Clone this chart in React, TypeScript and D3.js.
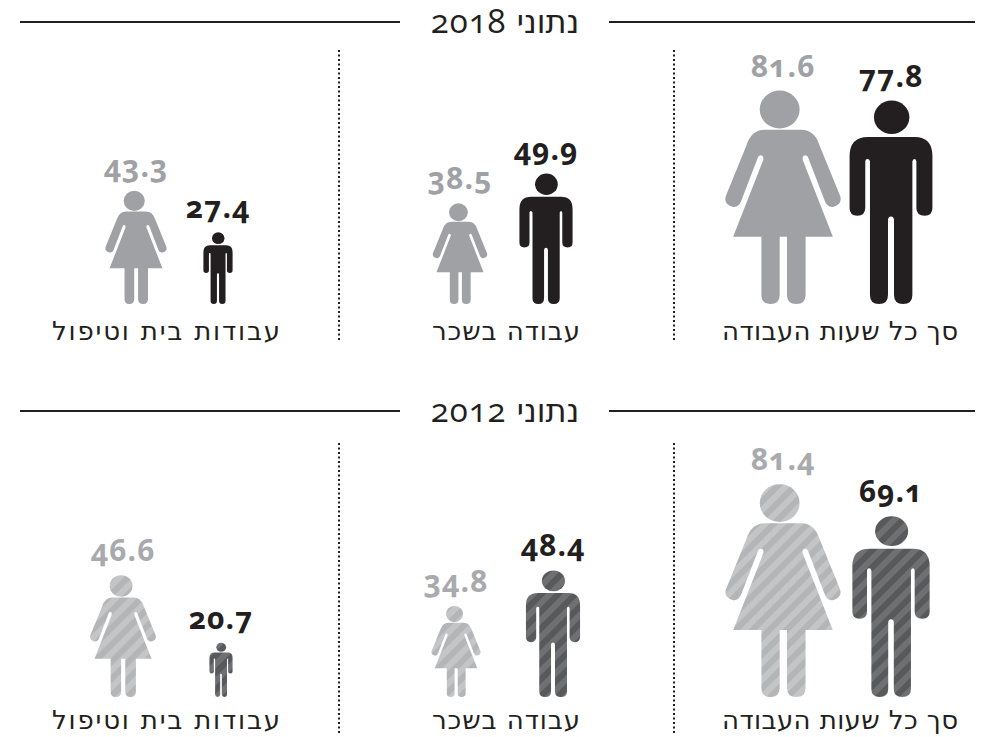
import React from "react";
import * as d3 from "d3";

const years = ["2018", "2012"];
const categories = ["סך כל שעות העבודה", "עבודה בשכר", "עבודות בית וטיפול"];
const women2018 = [81.6, 38.5, 43.3];
const men2018 = [77.8, 49.9, 27.4];
const women2012 = [81.4, 34.8, 46.6];
const men2012 = [69.1, 48.4, 20.7];

// Layout, separate from data
const womenX = [[783, 460, 136], [783, 456, 123]];
const menX = [[891, 546, 218], [891, 553, 221]];
const baselines = [304, 697];
const titleY = [22, 411];
const labelY = [340, 729];
const labelX = [840, 506, 166];
const labelWidth = [236, 148, 228];
const dividerX = [674, 339];
const dividerY: [number, number][] = [[50, 340], [443, 735]];
const manStretch = [1, 1.05];

const h = d3.scaleLinear().domain([0, 100]).range([0, 261.5]);

const womanPath =
  "M-55,-524 L55,-524 Q95,-524 110,-477 L172,-325 Q180,-300 150,-292 Q132,-290 125,-312 L75,-442 Q70,-450 62,-446 Q57,-440 60,-432 L150,-202 L68,-202 L68,-27 Q68,0 40,0 Q12,0 12,-27 L12,-202 L-10,-202 L-10,-27 Q-10,0 -38,0 Q-65,0 -65,-27 L-65,-202 L-150,-202 L-60,-432 Q-57,-440 -62,-446 Q-70,-450 -75,-442 L-125,-312 Q-132,-290 -150,-292 Q-180,-300 -172,-325 L-110,-477 Q-95,-524 -55,-524 Z";
const manPath =
  "M-69,-500 L71,-500 Q124,-500 124,-442 L124,-287 Q124,-264 101,-264 Q76,-264 76,-287 L76,-427 Q74,-434 71,-434 Q66,-434 64,-427 L64,-27 Q64,0 36,0 Q9,0 9,-27 L9,-252 Q8,-262 0,-262 Q-8,-262 -9,-252 L-9,-27 Q-9,0 -36,0 Q-63,0 -63,-27 L-63,-427 Q-64,-434 -71,-434 Q-76,-434 -77,-427 L-77,-287 Q-77,-264 -101,-264 Q-124,-264 -124,-287 L-124,-442 Q-124,-500 -69,-500 Z";

const hebrewFont = "'DejaVu Sans'";
const numFont = "'Open Sans', sans-serif";

function Figure({ id, kind, value, x, base, colors, stretch }: { id: string; kind: "w" | "m"; value: number; x: number; base: number; colors: [string, string] | string; stretch: number }) {
  const unit = kind === "w" ? 642 : 609;
  const s = h(value) / unit;
  const sx = s * stretch;
  const hatched = typeof colors !== "string";
  return (
    <g>
      {hatched && (
        <pattern id={id} width={12} height={12} patternUnits="userSpaceOnUse"
          patternTransform={`scale(${1 / sx},${1 / s}) rotate(45)`}>
          <rect width={12} height={12} fill={colors[0]} />
          <rect width={6} height={12} fill={colors[1]} />
        </pattern>
      )}
      <g transform={`translate(${x},${base}) scale(${sx},${s})`} fill={hatched ? `url(#${id})` : (colors as string)}>
        <path d={kind === "w" ? womanPath : manPath} />
        {kind === "w" ? <ellipse cx={-10} cy={-585} rx={60} ry={57} /> : <ellipse cx={2} cy={-559} rx={53} ry={50} />}
      </g>
    </g>
  );
}

export default function App() {
  const rows: any[] = [
    { w: women2018, m: men2018, wf: "#a0a1a4", mf: "#231f20", wt: "#a0a1a4", mt: "#231f20" },
    { w: women2012, m: men2012, wf: ["#c4c5c7", "#b4b5b7"], mf: ["#6f7073", "#58595b"], wt: "#a9aaad", mt: "#231f20" },
  ];
  const numStyle: React.CSSProperties = { fontVariantNumeric: "oldstyle-nums", fontFeatureSettings: "'onum' 1" };
  return (
    <svg width={995} height={737} viewBox="0 0 995 737" style={{ position: "absolute", left: 0, top: 0, background: "#fff" }}>
      {rows.map((r, ri) => (
        <g key={years[ri]}>
          <line x1={20} x2={400} y1={titleY[ri]} y2={titleY[ri]} stroke="#231f20" strokeWidth={2} />
          <line x1={609} x2={975} y1={titleY[ri]} y2={titleY[ri]} stroke="#231f20" strokeWidth={2} />
          <text x={505} y={titleY[ri] + 11} textAnchor="middle" direction="rtl" fontFamily={hebrewFont} fontSize={32} fill="#231f20">
            <tspan>{"נתוני "}</tspan>
            <tspan fontFamily={numFont} fontSize={33} letterSpacing={1} style={numStyle}>{years[ri]}</tspan>
          </text>
          {dividerX.map((dx) => (
            <line key={dx} x1={dx} x2={dx} y1={dividerY[ri][0]} y2={dividerY[ri][1]} stroke="#231f20" strokeWidth={2} strokeDasharray="2 2.5" />
          ))}
          {categories.map((c, i) => {
            const base = baselines[ri];
            return (
              <g key={c}>
                <Figure id={`w${ri}${i}`} kind="w" value={r.w[i]} x={womenX[ri][i]} base={base} colors={r.wf} stretch={1} />
                <Figure id={`m${ri}${i}`} kind="m" value={r.m[i]} x={menX[ri][i]} base={base} colors={r.mf} stretch={manStretch[ri]} />
                <text x={womenX[ri][i]} y={base - h(r.w[i]) - 14} textAnchor="middle" fontFamily={numFont} fontWeight={700} fontSize={30} letterSpacing={1} fill={r.wt} style={numStyle}>
                  {r.w[i].toFixed(1)}
                </text>
                <text x={menX[ri][i]} y={base - h(r.m[i]) - 14} textAnchor="middle" fontFamily={numFont} fontWeight={700} fontSize={30} letterSpacing={1} fill={r.mt} style={numStyle}>
                  {r.m[i].toFixed(1)}
                </text>
                <text x={labelX[i]} y={labelY[ri]} textAnchor="middle" direction="rtl" fontFamily={hebrewFont} fontSize={26} textLength={labelWidth[i]} lengthAdjust="spacing" fill="#231f20">
                  {c}
                </text>
              </g>
            );
          })}
        </g>
      ))}
    </svg>
  );
}
